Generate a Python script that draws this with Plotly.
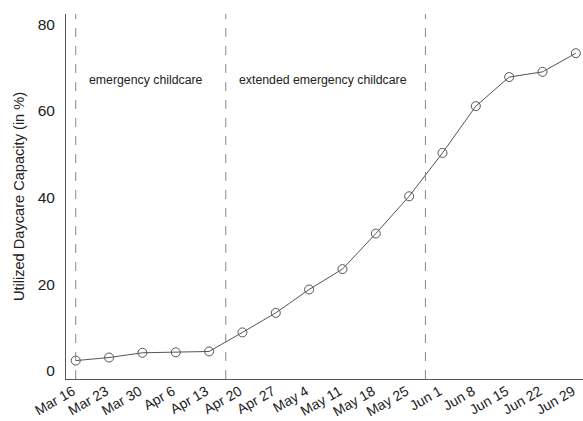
import plotly.graph_objects as go
import pandas as pd

weeks = pd.date_range("2020-03-16", "2020-06-29", freq="7D")
capacity = [2.4, 3.1, 4.2, 4.3, 4.5, 8.9, 13.4, 18.8, 23.5, 31.7,
            40.3, 50.3, 61.1, 67.8, 69.0, 73.3]
tick_labels = [d.strftime("%b ") + str(d.day) for d in weeks]
phase_starts = ["2020-03-16", "2020-04-16 12:00", "2020-05-28 10:00"]
phase_labels = ["emergency childcare", "extended emergency childcare"]

fig = go.Figure()
fig.add_trace(go.Scatter(
    x=weeks, y=capacity, mode="lines+markers",
    line=dict(color="#555555", width=1),
    marker=dict(symbol="circle-open", size=9, color="#555555", line=dict(width=1)),
    showlegend=False, cliponaxis=False,
))

for d in phase_starts:
    fig.add_shape(type="line", x0=d, x1=d, y0=0, y1=1, xref="x", yref="paper",
                  line=dict(color="#888888", width=1, dash="dash"))

for d, lab in zip(phase_starts[:2], phase_labels):
    fig.add_annotation(x=d, y=67.2, xref="x", yref="y", text=lab, showarrow=False,
                       xanchor="left", xshift=11, font=dict(size=12.3, color="#222222"))

fig.update_layout(
    width=583, height=421,
    margin=dict(l=66, r=0, t=14, b=42, autoexpand=False),
    paper_bgcolor="white", plot_bgcolor="white",
    font=dict(family="Liberation Sans, Arial, sans-serif", color="#222222"),
)
fig.update_xaxes(
    range=["2020-03-13 23:00", "2020-06-30 12:00"],
    tickvals=list(weeks), ticktext=tick_labels, tickangle=-30,
    tickfont=dict(size=14), showgrid=False, zeroline=False, automargin=False,
    showline=True, linecolor="#555555", linewidth=1,
    ticks="", ticklabelstandoff=-2, ticklabelshift=-3,
)
fig.update_yaxes(
    range=[-1.85, 82.35], tickvals=[0, 20, 40, 60, 80],
    tickfont=dict(size=15.5), showgrid=False, zeroline=False, automargin=False,
    showline=True, linecolor="#555555", linewidth=1,
    ticks="outside", ticklen=7, tickcolor="rgba(0,0,0,0)",
    title=dict(text="Utilized Daycare Capacity (in %)", font=dict(size=14.6), standoff=9),
)

fig.write_html("out.html", config={"displayModeBar": False},
               post_script="document.body.style.margin='0';document.body.style.padding='0';")
